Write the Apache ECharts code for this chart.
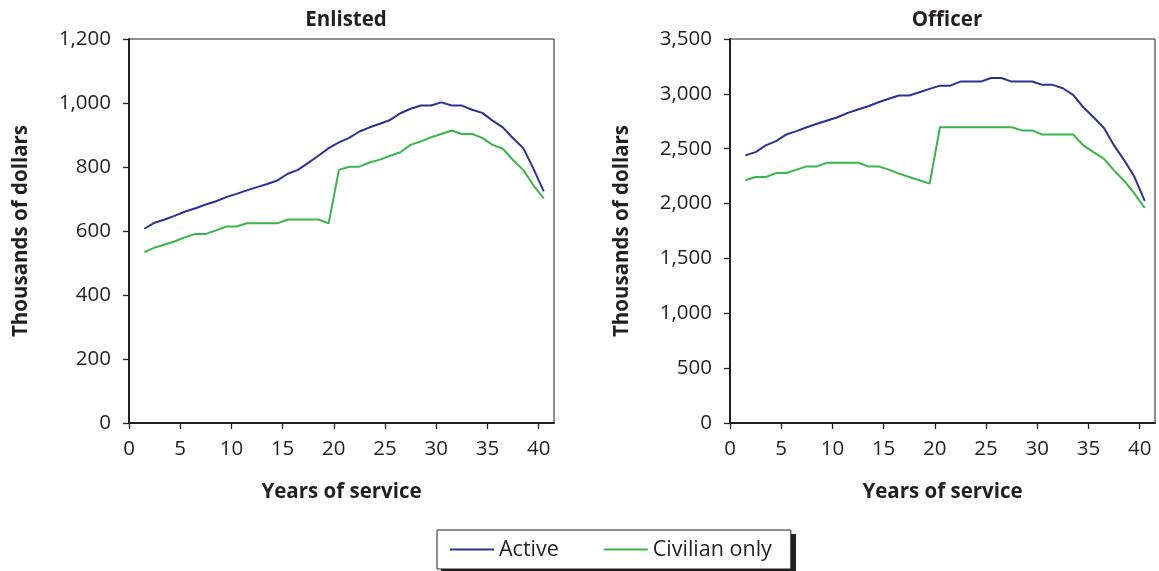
<!DOCTYPE html>
<html>
<head>
<meta charset="utf-8">
<script src="https://cdn.jsdelivr.net/npm/echarts@6/dist/echarts.min.js"></script>
<style>
html,body{margin:0;padding:0;background:#fff;}
#chart{width:1159px;height:571px;}
</style>
</head>
<body>
<div id="chart"></div>
<script>
// Years of service (point positions)
const years = [1.5,2.5,3.5,4.5,5.5,6.5,7.5,8.5,9.5,10.5,11.5,12.5,13.5,14.5,15.5,16.5,17.5,18.5,19.5,20.5,
               21.5,22.5,23.5,24.5,25.5,26.5,27.5,28.5,29.5,30.5,31.5,32.5,33.5,34.5,35.5,36.5,37.5,38.5,39.5,40.5];

// Enlisted (thousands of dollars)
const enlistedActive = [607,626,636,648,661,671,683,693,706,716,727,737,747,758,779,791,813,835,859,877,
                        891,911,924,935,947,968,982,992,992,1002,992,992,979,969,945,924,890,859,794,724];
const enlistedCivilian = [534,548,558,568,581,591,591,602,614,614,624,624,624,624,636,636,636,636,624,791,
                          801,801,814,823,835,846,869,880,893,903,914,903,903,891,869,857,822,791,742,702];

// Officer (thousands of dollars)
const officerActive = [2439,2469,2530,2569,2630,2660,2696,2727,2757,2787,2827,2857,2887,2924,2955,2985,2985,3015,3045,3075,
                       3075,3112,3112,3112,3145,3145,3112,3112,3112,3082,3082,3051,2991,2878,2787,2691,2530,2394,2242,2024];
const officerCivilian = [2212,2242,2242,2278,2278,2309,2339,2339,2373,2373,2373,2373,2339,2339,2309,2273,2242,2212,2182,2696,
                         2696,2696,2696,2696,2696,2696,2696,2667,2667,2630,2630,2630,2630,2530,2469,2409,2303,2206,2091,1960];

const xTicks = [0,5,10,15,20,25,30,35,40];
const panelTitles = ['Enlisted','Officer'];
const seriesNames = ['Active','Civilian only'];
const colors = ['#2e3192','#39b54a'];

const FONT = '"Open Sans", "Noto Sans", sans-serif';
const TXT = '#231f20';

function pairs(xs, ys){ return xs.map((x,i)=>[x, ys[i]]); }
function fmt(v){ return v.toLocaleString('en-US'); }

function xAxis(gi){
  return {
    type:'value', gridIndex:gi, min:0, max:41.5, interval:5,
    name:'Years of service', nameLocation:'middle', nameGap:59,
    nameTextStyle:{fontFamily:FONT, fontSize:20.5, fontWeight:'bold', color:TXT},
    axisLine:{show:true, onZero:false, lineStyle:{color:TXT, width:2}},
    axisTick:{show:true, inside:false, length:6, customValues:xTicks, lineStyle:{color:TXT, width:1.3}},
    axisLabel:{show:true, customValues:xTicks, margin:16, fontFamily:FONT, fontSize:20.5, color:TXT},
    splitLine:{show:false}
  };
}
function yAxis(gi, max, interval){
  return {
    type:'value', gridIndex:gi, min:0, max:max, interval:interval,
    name:'Thousands of dollars', nameLocation:'middle', nameGap:97, nameRotate:90,
    nameTextStyle:{fontFamily:FONT, fontSize:20.5, fontWeight:'bold', color:TXT},
    axisLine:{show:true, lineStyle:{color:TXT, width:2}},
    axisTick:{show:true, inside:false, length:6, lineStyle:{color:TXT, width:1.3}},
    axisLabel:{show:true, margin:18, fontFamily:FONT, fontSize:20.5, color:TXT, formatter:fmt},
    splitLine:{show:false}
  };
}
function line(name, gi, data, color){
  return {
    name:name, type:'line', xAxisIndex:gi, yAxisIndex:gi, data:data,
    showSymbol:false, symbol:'none', smooth:false,
    lineStyle:{color:color, width:2}, itemStyle:{color:color},
    emphasis:{disabled:true}, animation:false
  };
}

const chart = echarts.init(document.getElementById('chart'), null, {renderer:'canvas'});
chart.setOption({
  backgroundColor:'#ffffff',
  animation:false,
  title:[
    {text:panelTitles[0], left:341, top:5, textAlign:'center', textStyle:{fontFamily:FONT, fontSize:20.5, fontWeight:'bold', color:TXT}},
    {text:panelTitles[1], left:942, top:5, textAlign:'center', textStyle:{fontFamily:FONT, fontSize:20.5, fontWeight:'bold', color:TXT}}
  ],
  grid:[
    {left:129, right:605, top:39, bottom:148, show:true, borderColor:TXT, borderWidth:1, containLabel:false},
    {left:730, right:4, top:39, bottom:148, show:true, borderColor:TXT, borderWidth:1, containLabel:false}
  ],
  xAxis:[xAxis(0), xAxis(1)],
  yAxis:[yAxis(0,1200,200), yAxis(1,3500,500)],
  graphic:[
    {type:'rect', z:0, shape:{x:441, y:534, width:355, height:40}, style:{fill:TXT}, silent:true}
  ],
  legend:{
    data:[{name:seriesNames[0], icon:'rect'},{name:seriesNames[1], icon:'rect'}],
    left:437, top:530, orient:'horizontal', z:5,
    itemWidth:44, itemHeight:2, itemGap:45, itemTextGap:7,
    padding:[8,19,8,13],
    borderColor:TXT, borderWidth:1, backgroundColor:'#fff',
    textStyle:{fontFamily:FONT, fontSize:21.5, color:TXT, lineHeight:23},
    selectedMode:false
  },
  series:[
    line(seriesNames[0], 0, pairs(years, enlistedActive), colors[0]),
    line(seriesNames[1], 0, pairs(years, enlistedCivilian), colors[1]),
    line(seriesNames[0], 1, pairs(years, officerActive), colors[0]),
    line(seriesNames[1], 1, pairs(years, officerCivilian), colors[1])
  ]
});
</script>
</body>
</html>
